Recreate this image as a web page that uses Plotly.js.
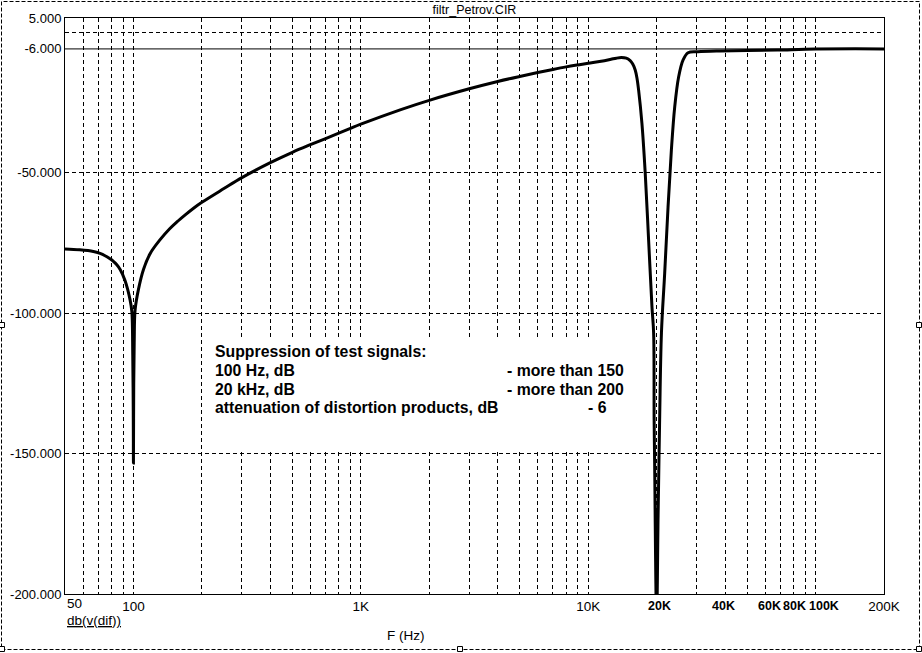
<!DOCTYPE html>
<html>
<head>
<meta charset="utf-8">
<script src="https://cdn.plot.ly/plotly-3.0.1.min.js"></script>
<style>
html,body{margin:0;padding:0;background:#fff;}
#chart{width:922px;height:653px;}
</style>
</head>
<body>
<div id="chart"></div>
<script>
// ---- data (frequency in Hz, magnitude in dB) ----
const freqHz = [50, 58, 66.6, 71.3, 75, 78.9, 81.6, 84.5, 87.4, 91.9, 96.7, 98.4, 99.3, 99.8, 100,
  100.3, 100.8, 101.7, 105.2, 110.7, 118.5, 131, 144, 155.3, 170, 183.8, 200, 250, 300, 400, 500, 600, 700, 800, 900,
  1000, 1500, 2000, 3000, 4000, 5000, 6000, 7000, 8000, 9000, 10000, 11400, 12600, 13300, 14000, 14700, 15300,
  15700, 16100, 16400, 16660, 17230, 17820, 18440, 19080, 19400, 19500, 19600, 20000, 20300, 20600, 21000,
  21700, 22450, 23220, 24020, 25000, 26150, 27500, 30400, 38000, 50000, 68000, 100000, 200000];
const magDb = [-77.2, -77.5, -78.1, -78.8, -79.6, -80.7, -81.6, -82.8, -84.5, -88.5, -95.4, -99.5, -115, -135, -153.4,
  -125, -110, -98.9, -91.6, -84.5, -78.8, -73.9, -70.1, -67.6, -64.9, -62.7, -60.6, -55.7, -51.8, -46.5, -42.8, -40.1, -37.9, -36.0, -34.3,
  -32.8, -27.6, -24.3, -20.2, -17.6, -15.8, -14.4, -13.3, -12.4, -11.7, -11.1, -10.4, -9.7, -9.3, -9.1, -9.3, -10.2,
  -11.4, -13.5, -16.5, -20.6, -32.4, -50.2, -74.0, -97.9, -107, -138, -153.4, -210, -172, -140, -107,
  -85.8, -62.3, -42, -26.6, -15.9, -9.9, -7.35, -7.0, -6.75, -6.6, -6.4, -6.05, -6.0];

const yTickVals = [5, -6, -50, -100, -150, -200];
const yTickText = ['5.000', '-6.000', '-50.000', '-100.000', '-150.000', '-200.000'];
const yGridVals = [0, -50, -100, -150];
const refLevelDb = -6;

const xTickVals = [100, 1000, 10000, 200000];
const xTickText = ['100', '1K', '10K', '200K'];
const xGridVals = [60, 70, 80, 90, 100, 200, 300, 400, 500, 600, 700, 800, 900,
  1000, 2000, 3000, 4000, 5000, 6000, 7000, 8000, 9000,
  10000, 20000, 30000, 40000, 50000, 60000, 70000, 80000, 90000, 100000];
const boldXLabels = ['20K', '40K', '60K', '80K', '100K'];
const boldXVals = [20000, 40000, 60000, 80000, 100000];
const boldXShift = [3, -2, 4, 1, 8];

const noteLeft = ['Suppression of test signals:', '100 Hz, dB', '20 kHz, dB', 'attenuation of distortion products, dB'];
const noteRight = ['', '- more than 150', '- more than 200', '- 6'];

// ---- layout geometry helpers (pixel -> paper) ----
const W = 922, H = 653, L = 65, R = 38, T = 18, B = 59;
const PW = W - L - R, PH = H - T - B;
const px = v => (v - L) / PW;
const py = v => (H - B - v) / PH;

const FONT = 'Arial, "Liberation Sans", sans-serif';

const shapes = [];
shapes.push({type: 'line', xref: 'paper', yref: 'y', x0: 0, x1: 1, y0: refLevelDb, y1: refLevelDb,
  line: {color: '#000', width: 1}});
shapes.push({type: 'rect', xref: 'paper', yref: 'paper', x0: px(204), x1: px(634), y0: py(449), y1: py(339),
  fillcolor: '#fff', line: {width: 0}, layer: 'above'});
shapes.push({type: 'rect', xref: 'paper', yref: 'paper', x0: px(1.5), x1: px(919.5), y0: py(649.5), y1: py(1.5),
  line: {color: '#000', width: 1, dash: '4px,2px'}, layer: 'above'});
[[2, 649], [460, 649], [919, 649], [2, 325], [919, 325]].forEach(([hx, hy]) => {
  shapes.push({type: 'rect', xref: 'paper', yref: 'paper', x0: px(hx - 2.5), x1: px(hx + 2.5), y0: py(hy + 2.5), y1: py(hy - 2.5),
    fillcolor: '#fff', line: {color: '#000', width: 1}, layer: 'above'});
});

const annotations = [];
annotations.push({xref: 'x', yref: 'paper', x: Math.log10(50), y: py(603), text: '50', showarrow: false,
  xanchor: 'left', yanchor: 'middle', font: {family: FONT, size: 13.5, color: '#000'}});
boldXVals.forEach((v, i) => {
  annotations.push({xref: 'x', yref: 'paper', x: Math.log10(v), y: py(606), text: '<b>' + boldXLabels[i] + '</b>',
    showarrow: false, xanchor: 'center', yanchor: 'middle', xshift: boldXShift[i],
    font: {family: FONT, size: 12.5, color: '#000'}});
});
annotations.push({xref: 'paper', yref: 'paper', x: px(65), y: py(620), text: '<u>db(v(dif))</u>', showarrow: false,
  xanchor: 'left', yanchor: 'middle', font: {family: FONT, size: 13.5, color: '#000'}});
annotations.push({xref: 'paper', yref: 'paper', x: px(406), y: py(635), text: 'F (Hz)', showarrow: false,
  xanchor: 'center', yanchor: 'middle', font: {family: FONT, size: 13.5, color: '#000'}});
const lineY = [351, 370, 389, 408];
noteLeft.forEach((t, i) => {
  annotations.push({xref: 'paper', yref: 'paper', x: px(213), y: py(lineY[i]), text: '<b>' + t + '</b>', showarrow: false,
    xanchor: 'left', yanchor: 'middle', font: {family: FONT, size: 15.8, color: '#000'}});
});
const rightX = [0, 505, 505, 586];
noteRight.forEach((t, i) => {
  if (!t) return;
  annotations.push({xref: 'paper', yref: 'paper', x: px(rightX[i]), y: py(lineY[i]), text: '<b>' + t + '</b>', showarrow: false,
    xanchor: 'left', yanchor: 'middle', font: {family: FONT, size: 15.8, color: '#000'}});
});

const trace = {
  x: freqHz, y: magDb, type: 'scatter', mode: 'lines',
  line: {color: '#000', width: 3, shape: 'spline', smoothing: 1}, hoverinfo: 'skip', cliponaxis: true
};

const layout = {
  width: W, height: H,
  margin: {l: L, r: R, t: T, b: B, pad: 0},
  paper_bgcolor: '#fff', plot_bgcolor: '#fff',
  showlegend: false,
  title: {text: 'filtr_Petrov.CIR', x: (L + PW / 2) / W, xanchor: 'center', y: 1 - 9.5 / H, yanchor: 'middle',
    font: {family: FONT, size: 12.5, color: '#000'}},
  xaxis: {
    type: 'log', range: [Math.log10(50), Math.log10(200000)],
    tickmode: 'array', tickvals: xTickVals, ticktext: xTickText,
    ticks: '', showgrid: false, zeroline: false,
    showline: true, linecolor: '#000', linewidth: 1, mirror: true,
    tickfont: {family: FONT, size: 13.5, color: '#000'},
    minor: {tickmode: 'array', tickvals: xGridVals, showgrid: true, gridcolor: '#000', gridwidth: 1, griddash: '4px,3px', ticks: ''},
    fixedrange: true
  },
  yaxis: {
    range: [-200, 5],
    tickmode: 'array', tickvals: yTickVals, ticktext: yTickText,
    ticks: '', showgrid: false, zeroline: false,
    showline: true, linecolor: '#000', linewidth: 1, mirror: true,
    tickfont: {family: FONT, size: 13, color: '#000'},
    minor: {tickmode: 'array', tickvals: yGridVals, showgrid: true, gridcolor: '#000', gridwidth: 1, griddash: '4px,3px', ticks: ''},
    fixedrange: true
  },
  shapes: shapes,
  annotations: annotations
};

Plotly.newPlot('chart', [trace], layout, {displayModeBar: false, staticPlot: true});
</script>
</body>
</html>
